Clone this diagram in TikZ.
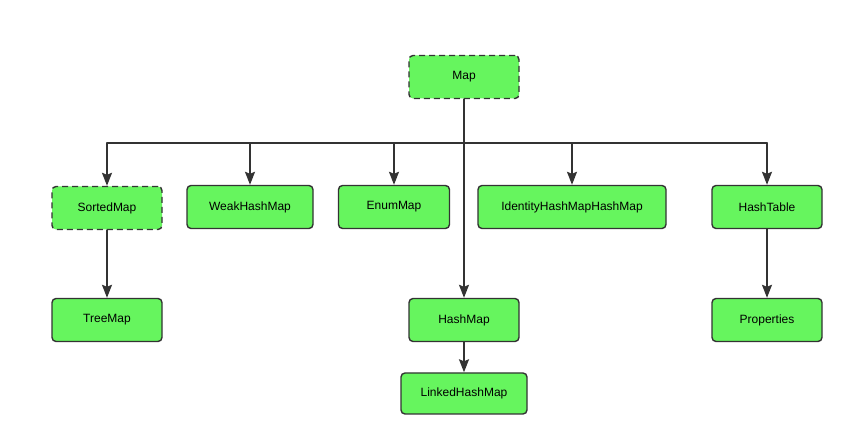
\documentclass[tikz,border=0pt]{standalone}
\usepackage{fontspec}
\setmainfont{Liberation Sans}
\usetikzlibrary{arrows.meta}
\definecolor{boxgreen}{HTML}{66F55E}
\definecolor{linegray}{HTML}{333333}
\begin{document}
\begin{tikzpicture}[x=1pt, y=-1pt, font=\fontsize{12}{14}\selectfont, line join=round, line cap=round, >={Stealth[length=13pt,width=10pt,inset=2pt]},
  box/.style={draw=linegray, line width=1.4pt, fill=boxgreen, rounded corners=4pt, minimum width=110pt, minimum height=43pt, inner sep=0pt},
  abstract/.style={box, line cap=butt, dash pattern=on 6pt off 4pt},
  link/.style={draw=linegray, line width=1.6pt}]
\useasboundingbox (0,0) rectangle (868,427);
\def\busy{143}
\node[abstract] (map) at (464,77) {Map};
\node[abstract] (sorted) at (107,208) {SortedMap};
\node[box, minimum width=126pt] (weak) at (250,207) {WeakHashMap};
\node[box, minimum width=111pt] (enum) at (394,207) {EnumMap};
\node[box, minimum width=188pt] (identity) at (572,207) {IdentityHashMapHashMap};
\node[box] (hashtable) at (767,207) {HashTable};
\node[box] (treemap) at (107,320) {TreeMap};
\node[box] (hashmap) at (464,320) {HashMap};
\node[box, minimum width=126pt, minimum height=41pt] (linked) at (464,393.5) {LinkedHashMap};
\node[box] (properties) at (767,320) {Properties};
\coordinate (bus) at (464,\busy);
\draw[link] (sorted.north |- bus) -- (hashtable.north |- bus);
\draw[link,->] (map.south) -- (hashmap.north);
\foreach \n in {sorted,weak,enum,identity,hashtable}
  \draw[link,->] (\n.north |- bus) -- (\n.north);
\draw[link,->] (sorted.south) -- (treemap.north);
\draw[link,->] (hashmap.south) -- (linked.north);
\draw[link,->] (hashtable.south) -- (properties.north);
\end{tikzpicture}
\end{document}
